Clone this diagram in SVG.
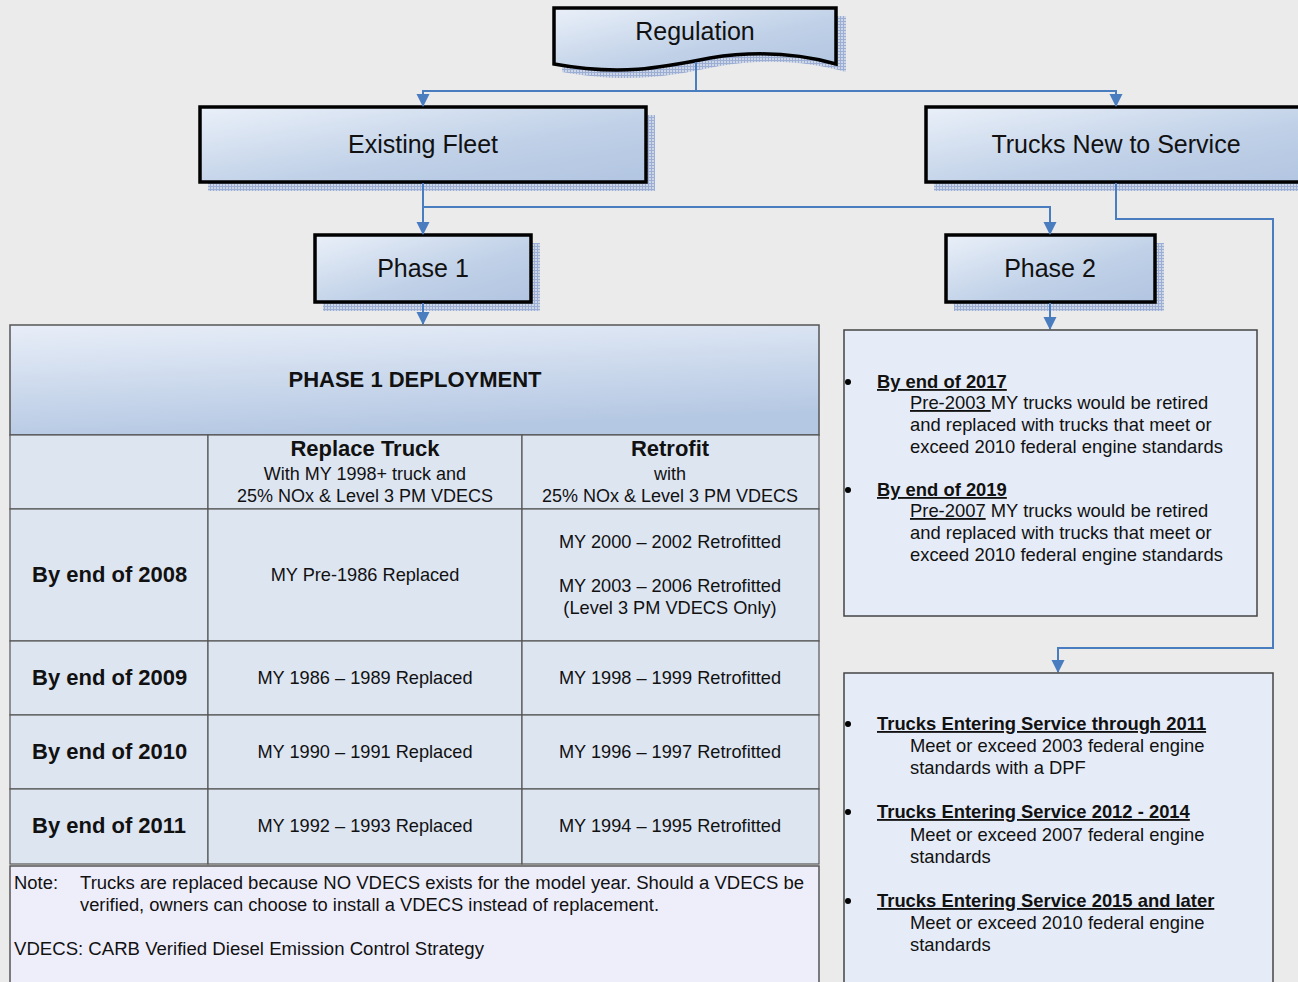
<svg xmlns="http://www.w3.org/2000/svg" width="1298" height="982" viewBox="0 0 1298 982">
<defs>
<linearGradient id="nodeGrad" x1="0" y1="0" x2="1" y2="1">
<stop offset="0" stop-color="#eaf0f9"/>
<stop offset="0.6" stop-color="#bfd0e7"/>
<stop offset="1" stop-color="#b2c5e1"/>
</linearGradient>
<linearGradient id="headGrad" x1="0" y1="0" x2="0.3" y2="1">
<stop offset="0" stop-color="#e8eef8"/>
<stop offset="1" stop-color="#b5c8e3"/>
</linearGradient>
<pattern id="hatch" width="3" height="3" patternUnits="userSpaceOnUse">
<rect width="3" height="3" fill="#c8d2e6"/>
<rect width="1" height="3" fill="#8ea3cf"/>
<rect width="3" height="1" fill="#8ea3cf"/>
</pattern>
<marker id="arr" markerUnits="userSpaceOnUse" markerWidth="14" markerHeight="14" refX="12" refY="7" orient="auto">
<path d="M0,0.5 L13,7 L0,13.5 Z" fill="#4a7cc0"/>
</marker>
</defs>
<style>
.node{fill:url(#nodeGrad);stroke:#000;stroke-width:3.5}
.shadow{fill:url(#hatch);opacity:0.85}
.conn{fill:none;stroke:#4a7cc0;stroke-width:2}
.t{font-family:"Liberation Sans",Arial,sans-serif;fill:#111}
.big{font-size:25px}
.b{font-weight:bold}
.cell{fill:#dde5f1;stroke:#555;stroke-width:1.2}
.box{fill:#e6ecf7;stroke:#444;stroke-width:1.5}
.s18{font-size:18px}
.c18{font-size:18.2px}
.r18{font-size:18.4px}
.s22{font-size:22px}
.u{text-decoration:underline}
</style>
<rect width="1298" height="982" fill="#ebebeb"/>

<g id="regulation">
<path class="shadow" d="M562,16 H846 V72 C810,62 770,58 720,66 C670,76 630,84 562,72 Z"/>
<path class="node" d="M554,8 H836 V64 C800,54 760,50 710,58 C660,68 620,76 554,64 Z"/>
<text class="t big" x="695" y="40" text-anchor="middle">Regulation</text>
</g>

<g id="existing-fleet">
<rect class="shadow" x="208" y="115" width="447" height="76"/>
<rect class="node" x="200" y="107" width="446" height="75"/>
<text class="t big" x="423" y="153" text-anchor="middle">Existing Fleet</text>
</g>

<g id="trucks-new">
<rect class="shadow" x="934" y="115" width="380" height="76"/>
<rect class="node" x="926" y="107" width="390" height="75"/>
<text class="t big" x="1116" y="153" text-anchor="middle">Trucks New to Service</text>
</g>

<g id="phase1">
<rect class="shadow" x="323" y="243" width="217" height="68"/>
<rect class="node" x="315" y="235" width="216" height="67"/>
<text class="t big" x="423" y="277" text-anchor="middle">Phase 1</text>
</g>

<g id="phase2">
<rect class="shadow" x="954" y="243" width="210" height="68"/>
<rect class="node" x="946" y="235" width="209" height="67"/>
<text class="t big" x="1050" y="277" text-anchor="middle">Phase 2</text>
</g>

<g id="connectors">
<path class="conn" d="M696,62 V91 H423 V106" marker-end="url(#arr)"/>
<path class="conn" d="M696,91 H1116 V106" marker-end="url(#arr)"/>
<path class="conn" d="M423,183 V234" marker-end="url(#arr)"/>
<path class="conn" d="M423,207 H1050 V234" marker-end="url(#arr)"/>
<path class="conn" d="M1116,183 V219 H1273 V648 H1058 V672" marker-end="url(#arr)"/>
<path class="conn" d="M423,303 V324" marker-end="url(#arr)"/>
<path class="conn" d="M1050,303 V329" marker-end="url(#arr)"/>
</g>

<g id="phase1-table">
<rect x="10" y="325" width="809" height="110" fill="url(#headGrad)" stroke="#555" stroke-width="1.5"/>
<text class="t b s22" x="415" y="387" text-anchor="middle">PHASE 1 DEPLOYMENT</text>
<rect class="cell" x="10" y="435" width="198" height="74"/>
<rect class="cell" x="208" y="435" width="314" height="74"/>
<rect class="cell" x="522" y="435" width="297" height="74"/>
<rect class="cell" x="10" y="509" width="198" height="132"/>
<rect class="cell" x="208" y="509" width="314" height="132"/>
<rect class="cell" x="522" y="509" width="297" height="132"/>
<rect class="cell" x="10" y="641" width="198" height="74"/>
<rect class="cell" x="208" y="641" width="314" height="74"/>
<rect class="cell" x="522" y="641" width="297" height="74"/>
<rect class="cell" x="10" y="715" width="198" height="74"/>
<rect class="cell" x="208" y="715" width="314" height="74"/>
<rect class="cell" x="522" y="715" width="297" height="74"/>
<rect class="cell" x="10" y="789" width="198" height="75"/>
<rect class="cell" x="208" y="789" width="314" height="75"/>
<rect class="cell" x="522" y="789" width="297" height="75"/>

<text class="t b s22" x="365" y="456" text-anchor="middle">Replace Truck</text>
<text class="t s18" x="365" y="480" text-anchor="middle">With MY 1998+ truck and</text>
<text class="t s18" x="365" y="502" text-anchor="middle">25% NOx &amp; Level 3 PM VDECS</text>
<text class="t b s22" x="670" y="456" text-anchor="middle">Retrofit</text>
<text class="t s18" x="670" y="480" text-anchor="middle">with</text>
<text class="t s18" x="670" y="502" text-anchor="middle">25% NOx &amp; Level 3 PM VDECS</text>

<text class="t b s22" x="32" y="582">By end of 2008</text>
<text class="t c18" x="365" y="581" text-anchor="middle">MY Pre-1986 Replaced</text>
<text class="t c18" x="670" y="548" text-anchor="middle">MY 2000 – 2002 Retrofitted</text>
<text class="t c18" x="670" y="592" text-anchor="middle">MY 2003 – 2006 Retrofitted</text>
<text class="t c18" x="670" y="614" text-anchor="middle">(Level 3 PM VDECS Only)</text>

<text class="t b s22" x="32" y="685">By end of 2009</text>
<text class="t c18" x="365" y="684" text-anchor="middle">MY 1986 – 1989 Replaced</text>
<text class="t c18" x="670" y="684" text-anchor="middle">MY 1998 – 1999 Retrofitted</text>

<text class="t b s22" x="32" y="759">By end of 2010</text>
<text class="t c18" x="365" y="758" text-anchor="middle">MY 1990 – 1991 Replaced</text>
<text class="t c18" x="670" y="758" text-anchor="middle">MY 1996 – 1997 Retrofitted</text>

<text class="t b s22" x="32" y="833">By end of 2011</text>
<text class="t c18" x="365" y="832" text-anchor="middle">MY 1992 – 1993 Replaced</text>
<text class="t c18" x="670" y="832" text-anchor="middle">MY 1994 – 1995 Retrofitted</text>
</g>

<g id="note">
<rect x="10" y="866" width="809" height="130" fill="#eeeefb" stroke="#555" stroke-width="1.5"/>
<text class="t s18" x="14" y="889" textLength="44" lengthAdjust="spacingAndGlyphs">Note:</text>
<text class="t s18" x="80" y="889" textLength="724" lengthAdjust="spacingAndGlyphs">Trucks are replaced because NO VDECS exists for the model year.  Should a VDECS be</text>
<text class="t s18" x="80" y="911" textLength="579" lengthAdjust="spacingAndGlyphs">verified, owners can choose to install a VDECS instead of replacement.</text>
<text class="t s18" x="14" y="955" textLength="470" lengthAdjust="spacingAndGlyphs">VDECS:  CARB Verified Diesel Emission Control Strategy</text>
</g>

<g id="phase2-box">
<rect class="box" x="844" y="330" width="413" height="286"/>
<circle cx="848" cy="382" r="3" fill="#000"/>
<text class="t b r18 u" x="877" y="388">By end of 2017</text>
<text class="t r18" x="910" y="409"><tspan class="u">Pre-2003 </tspan>MY trucks would be retired</text>
<text class="t r18" x="910" y="431">and replaced with trucks that meet or</text>
<text class="t r18" x="910" y="453">exceed 2010 federal engine standards</text>
<circle cx="848" cy="490" r="3" fill="#000"/>
<text class="t b r18 u" x="877" y="496">By end of 2019</text>
<text class="t r18" x="910" y="517"><tspan class="u">Pre-2007</tspan> MY trucks would be retired</text>
<text class="t r18" x="910" y="539">and replaced with trucks that meet or</text>
<text class="t r18" x="910" y="561">exceed 2010 federal engine standards</text>
</g>

<g id="new-service-box">
<rect class="box" x="844" y="673" width="429" height="330"/>
<circle cx="848" cy="724" r="3" fill="#000"/>
<text class="t b r18 u" x="877" y="730">Trucks Entering Service through 2011</text>
<text class="t r18" x="910" y="752">Meet or exceed 2003 federal engine</text>
<text class="t r18" x="910" y="774">standards with a DPF</text>
<circle cx="848" cy="812" r="3" fill="#000"/>
<text class="t b r18 u" x="877" y="818">Trucks Entering Service 2012 - 2014</text>
<text class="t r18" x="910" y="841">Meet or exceed 2007 federal engine</text>
<text class="t r18" x="910" y="863">standards</text>
<circle cx="848" cy="901" r="3" fill="#000"/>
<text class="t b r18 u" x="877" y="907">Trucks Entering Service 2015 and later</text>
<text class="t r18" x="910" y="929">Meet or exceed 2010 federal engine</text>
<text class="t r18" x="910" y="951">standards</text>
</g>
</svg>
